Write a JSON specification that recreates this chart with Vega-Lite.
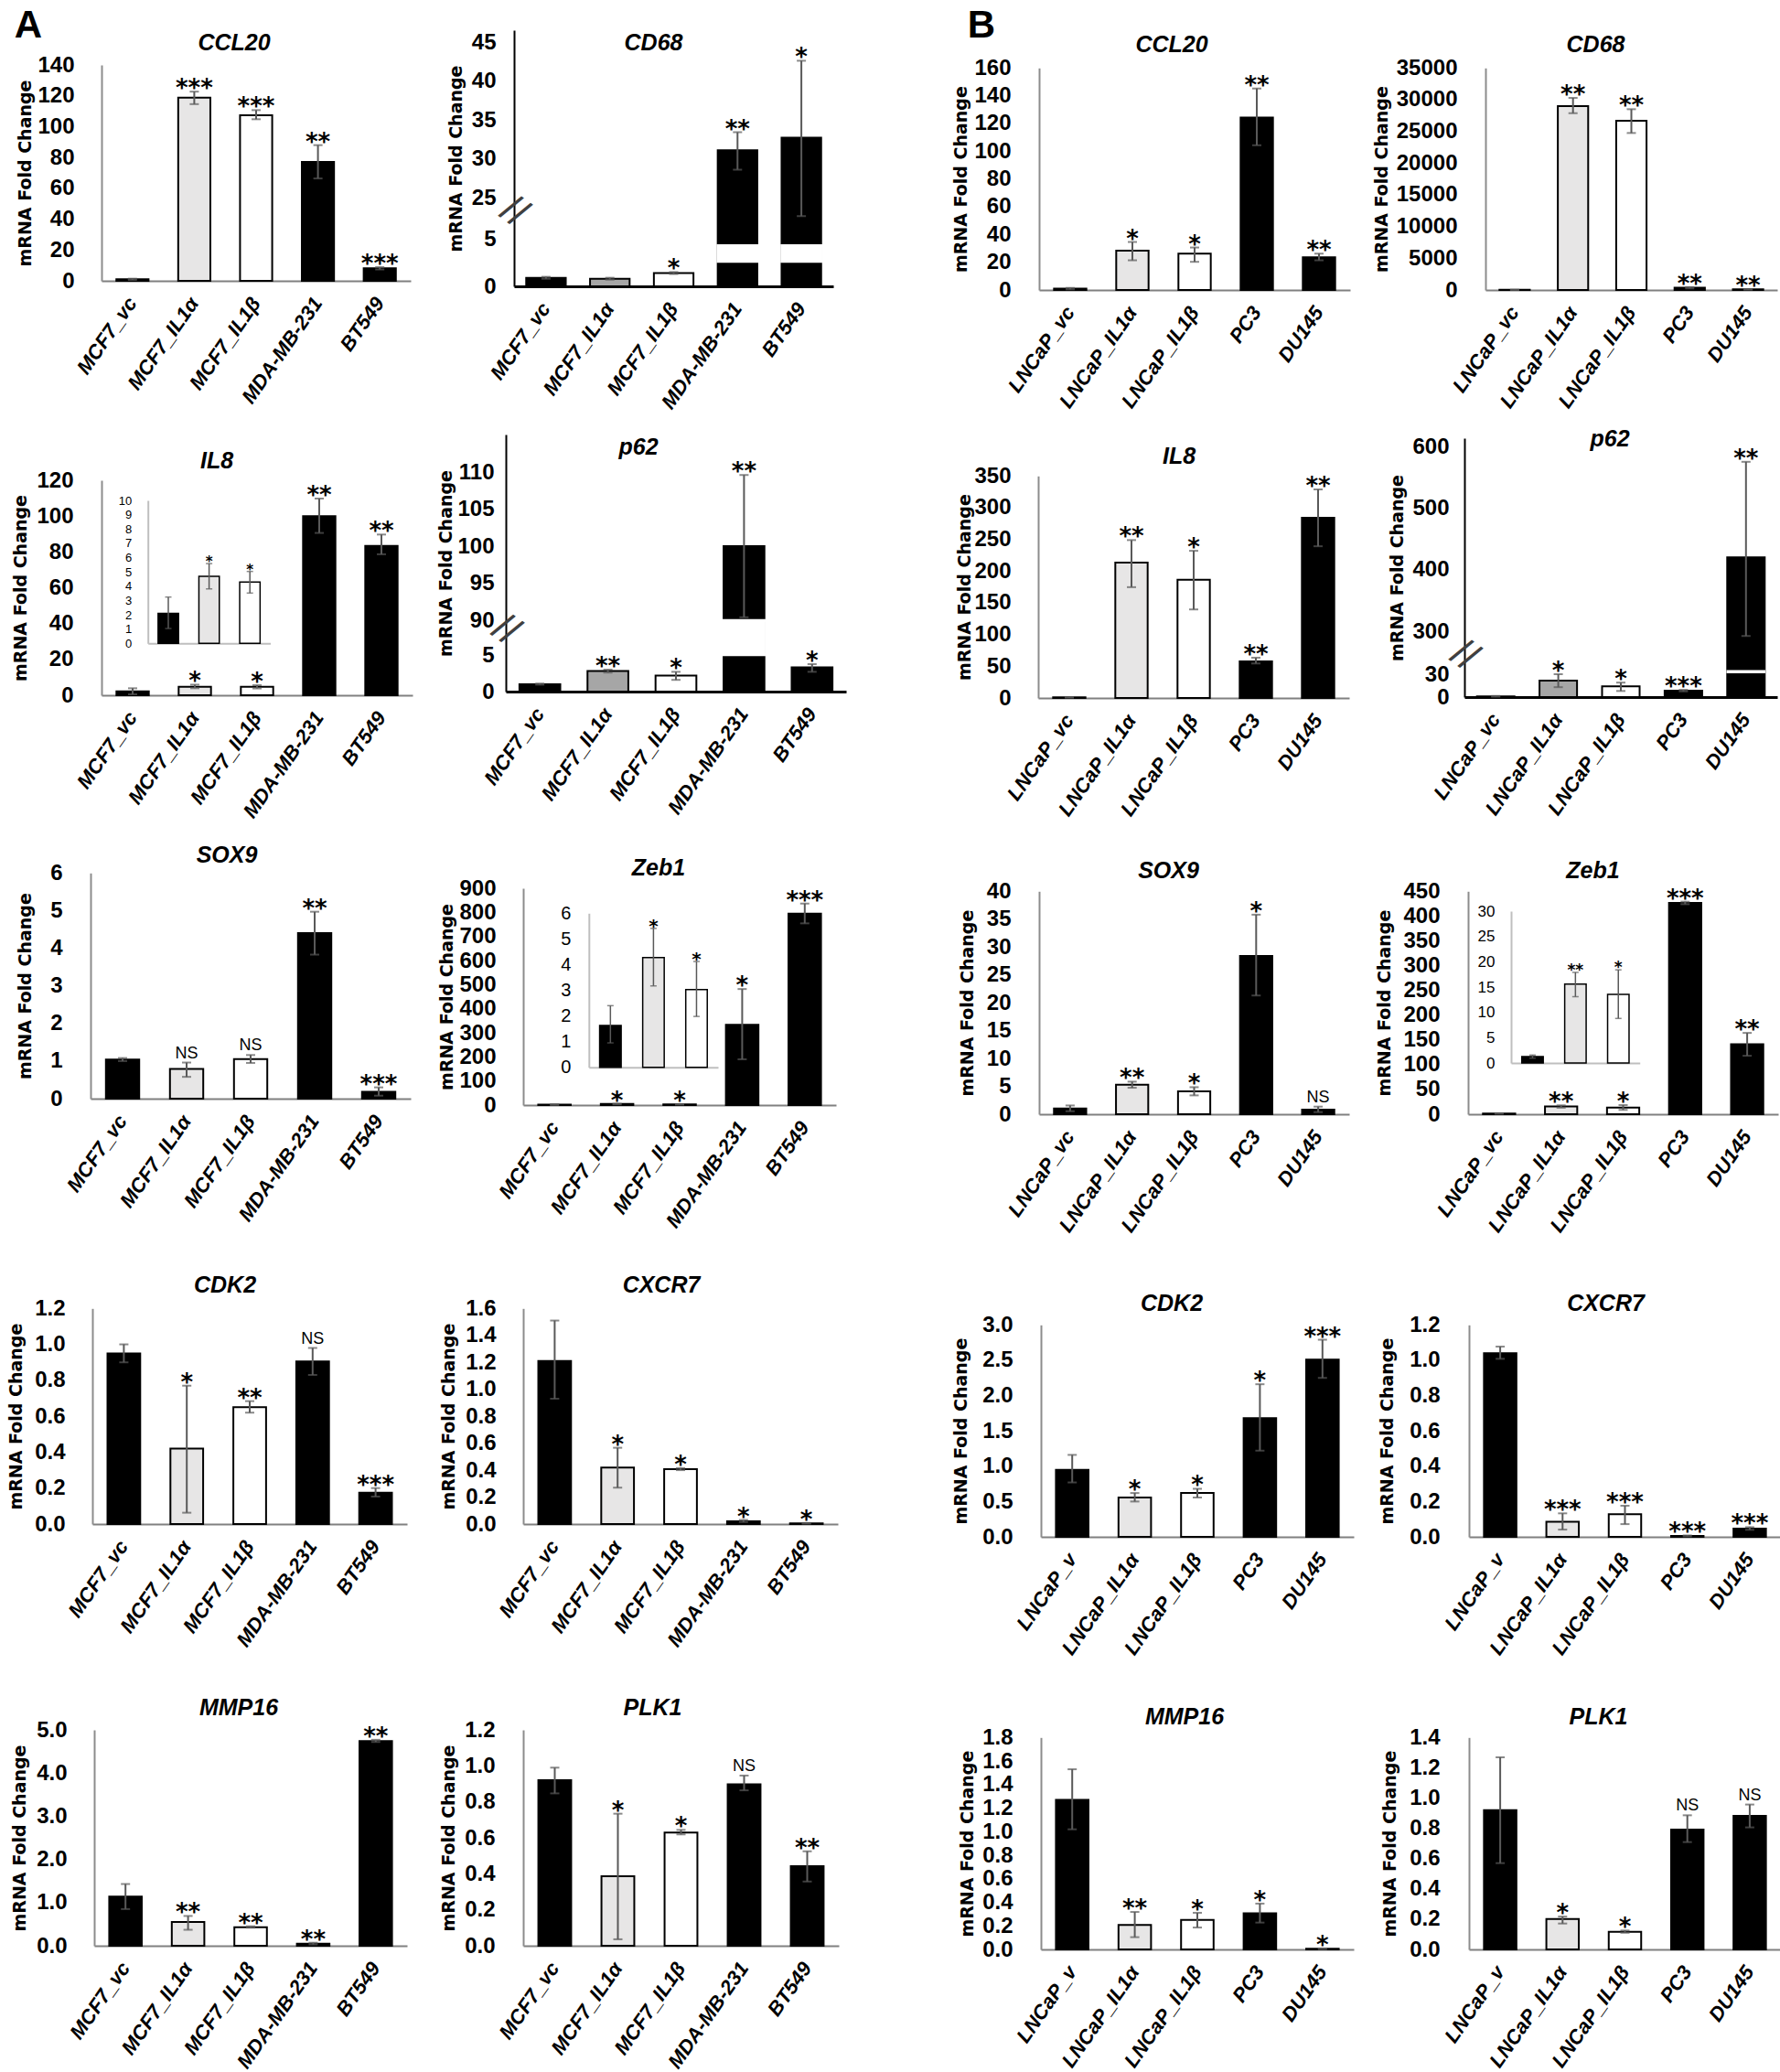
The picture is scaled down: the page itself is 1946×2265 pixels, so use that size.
{
"$schema":"https://vega.github.io/schema/vega-lite/v6.json",
"background":"white",
"padding":{"left":8,"top":6,"right":2,"bottom":0},
"datasets":{
"bars":[
{"panel":"A_CCL20","cell":"MCF7_vc","grp":"c","value":1.0,"lo":0.6,"hi":1.4,"sig":""},
{"panel":"A_CCL20","cell":"MCF7_IL1α","grp":"a","value":118.8,"lo":114.6,"hi":122.7,"sig":"***"},
{"panel":"A_CCL20","cell":"MCF7_IL1β","grp":"b","value":107.4,"lo":104.8,"hi":110.7,"sig":"***"},
{"panel":"A_CCL20","cell":"MDA-MB-231","grp":"c","value":77.1,"lo":66.4,"hi":88.0,"sig":"**"},
{"panel":"A_CCL20","cell":"BT549","grp":"c","value":8.1,"lo":7.4,"hi":8.9,"sig":"***"},
{"panel":"A_CD68","cell":"MCF7_vc","grp":"c","value":0.9,"lo":0.8,"hi":1.0,"sig":""},
{"panel":"A_CD68","cell":"MCF7_IL1α","grp":"g","value":0.8,"lo":0.7,"hi":0.9,"sig":""},
{"panel":"A_CD68","cell":"MCF7_IL1β","grp":"b","value":1.4,"lo":1.3,"hi":1.5,"sig":"*"},
{"panel":"A_CD68","cell":"MDA-MB-231","grp":"c","value":31.1,"lo":28.6,"hi":33.4,"sig":"**"},
{"panel":"A_CD68","cell":"BT549","grp":"c","value":32.7,"lo":16,"hi":42.6,"sig":"*"},
{"panel":"B_CCL20","cell":"LNCaP_vc","grp":"c","value":1.0,"lo":0.5,"hi":1.5,"sig":""},
{"panel":"B_CCL20","cell":"LNCaP_IL1α","grp":"a","value":28.4,"lo":21.4,"hi":34.6,"sig":"*"},
{"panel":"B_CCL20","cell":"LNCaP_IL1β","grp":"b","value":26.2,"lo":20.3,"hi":30.6,"sig":"*"},
{"panel":"B_CCL20","cell":"PC3","grp":"c","value":124.3,"lo":104.3,"hi":145.2,"sig":"**"},
{"panel":"B_CCL20","cell":"DU145","grp":"c","value":23.6,"lo":21.4,"hi":26.2,"sig":"**"},
{"panel":"B_CD68","cell":"LNCaP_vc","grp":"c","value":20,"lo":0,"hi":40,"sig":""},
{"panel":"B_CD68","cell":"LNCaP_IL1α","grp":"a","value":29000,"lo":27870,"hi":30280,"sig":"**"},
{"panel":"B_CD68","cell":"LNCaP_IL1β","grp":"b","value":26670,"lo":24750,"hi":28500,"sig":"**"},
{"panel":"B_CD68","cell":"PC3","grp":"c","value":350,"lo":250,"hi":450,"sig":"**"},
{"panel":"B_CD68","cell":"DU145","grp":"c","value":100,"lo":50,"hi":150,"sig":"**"},
{"panel":"A_IL8","cell":"MCF7_vc","grp":"c","value":2.2,"lo":0.5,"hi":3.9,"sig":""},
{"panel":"A_IL8","cell":"MCF7_IL1α","grp":"a","value":4.7,"lo":3.9,"hi":5.9,"sig":"*"},
{"panel":"A_IL8","cell":"MCF7_IL1β","grp":"b","value":4.7,"lo":3.8,"hi":5.6,"sig":"*"},
{"panel":"A_IL8","cell":"MDA-MB-231","grp":"c","value":100,"lo":90.6,"hi":109.8,"sig":"**"},
{"panel":"A_IL8","cell":"BT549","grp":"c","value":83.4,"lo":78.7,"hi":89.7,"sig":"**"},
{"panel":"A_IL8_in","cell":"MCF7_vc","grp":"c","value":2.1,"lo":1.04,"hi":3.24,"sig":""},
{"panel":"A_IL8_in","cell":"MCF7_IL1α","grp":"a","value":4.69,"lo":3.81,"hi":5.58,"sig":"*"},
{"panel":"A_IL8_in","cell":"MCF7_IL1β","grp":"b","value":4.29,"lo":3.52,"hi":5.03,"sig":"*"},
{"panel":"A_p62","cell":"MCF7_vc","grp":"c","value":1.0,"lo":0.95,"hi":1.1,"sig":""},
{"panel":"A_p62","cell":"MCF7_IL1α","grp":"g","value":2.8,"lo":2.6,"hi":3.0,"sig":"**"},
{"panel":"A_p62","cell":"MCF7_IL1β","grp":"b","value":2.2,"lo":1.6,"hi":2.7,"sig":"*"},
{"panel":"A_p62","cell":"MDA-MB-231","grp":"c","value":100,"lo":90.4,"hi":109.6,"sig":"**"},
{"panel":"A_p62","cell":"BT549","grp":"c","value":3.3,"lo":2.7,"hi":3.75,"sig":"*"},
{"panel":"B_IL8","cell":"LNCaP_vc","grp":"c","value":1.0,"lo":0.5,"hi":1.5,"sig":""},
{"panel":"B_IL8","cell":"LNCaP_IL1α","grp":"a","value":213.3,"lo":174.7,"hi":248.9,"sig":"**"},
{"panel":"B_IL8","cell":"LNCaP_IL1β","grp":"b","value":186.3,"lo":139.6,"hi":232.0,"sig":"*"},
{"panel":"B_IL8","cell":"PC3","grp":"c","value":57.8,"lo":54.4,"hi":63.5,"sig":"**"},
{"panel":"B_IL8","cell":"DU145","grp":"c","value":284,"lo":239.2,"hi":328.8,"sig":"**"},
{"panel":"B_p62","cell":"LNCaP_vc","grp":"c","value":1.0,"lo":0.5,"hi":1.5,"sig":""},
{"panel":"B_p62","cell":"LNCaP_IL1α","grp":"g","value":21.6,"lo":13,"hi":30,"sig":"*"},
{"panel":"B_p62","cell":"LNCaP_IL1β","grp":"b","value":14,"lo":8,"hi":19,"sig":"*"},
{"panel":"B_p62","cell":"PC3","grp":"c","value":8.4,"lo":7.5,"hi":9.5,"sig":"***"},
{"panel":"B_p62","cell":"DU145","grp":"c","value":420,"lo":270,"hi":575,"sig":"**"},
{"panel":"A_SOX9","cell":"MCF7_vc","grp":"c","value":1.04,"lo":1.0,"hi":1.08,"sig":""},
{"panel":"A_SOX9","cell":"MCF7_IL1α","grp":"a","value":0.79,"lo":0.58,"hi":0.96,"sig":"NS"},
{"panel":"A_SOX9","cell":"MCF7_IL1β","grp":"b","value":1.05,"lo":0.95,"hi":1.16,"sig":"NS"},
{"panel":"A_SOX9","cell":"MDA-MB-231","grp":"c","value":4.40,"lo":3.83,"hi":4.97,"sig":"**"},
{"panel":"A_SOX9","cell":"BT549","grp":"c","value":0.18,"lo":0.08,"hi":0.30,"sig":"***"},
{"panel":"A_Zeb1","cell":"MCF7_vc","grp":"c","value":1.6,"lo":0.9,"hi":2.4,"sig":""},
{"panel":"A_Zeb1","cell":"MCF7_IL1α","grp":"a","value":4.3,"lo":3.2,"hi":5.4,"sig":"*"},
{"panel":"A_Zeb1","cell":"MCF7_IL1β","grp":"b","value":3.0,"lo":2.0,"hi":4.1,"sig":"*"},
{"panel":"A_Zeb1","cell":"MDA-MB-231","grp":"c","value":333.5,"lo":190,"hi":481.7,"sig":"*"},
{"panel":"A_Zeb1","cell":"BT549","grp":"c","value":794.7,"lo":754.3,"hi":836.5,"sig":"***"},
{"panel":"A_Zeb1_in","cell":"MCF7_vc","grp":"c","value":1.63,"lo":0.95,"hi":2.4,"sig":""},
{"panel":"A_Zeb1_in","cell":"MCF7_IL1α","grp":"a","value":4.27,"lo":3.17,"hi":5.41,"sig":"*"},
{"panel":"A_Zeb1_in","cell":"MCF7_IL1β","grp":"b","value":3.03,"lo":1.98,"hi":4.12,"sig":"*"},
{"panel":"B_SOX9","cell":"LNCaP_vc","grp":"c","value":1.03,"lo":0.54,"hi":1.57,"sig":""},
{"panel":"B_SOX9","cell":"LNCaP_IL1α","grp":"a","value":5.3,"lo":4.75,"hi":5.84,"sig":"**"},
{"panel":"B_SOX9","cell":"LNCaP_IL1β","grp":"b","value":4.1,"lo":3.38,"hi":4.85,"sig":"*"},
{"panel":"B_SOX9","cell":"PC3","grp":"c","value":28.4,"lo":21.3,"hi":35.8,"sig":"*"},
{"panel":"B_SOX9","cell":"DU145","grp":"c","value":0.82,"lo":0.38,"hi":1.36,"sig":"NS"},
{"panel":"B_Zeb1","cell":"LNCaP_vc","grp":"c","value":1.3,"lo":1.0,"hi":1.6,"sig":""},
{"panel":"B_Zeb1","cell":"LNCaP_IL1α","grp":"a","value":15.6,"lo":13.1,"hi":17.9,"sig":"**"},
{"panel":"B_Zeb1","cell":"LNCaP_IL1β","grp":"b","value":13.5,"lo":8.8,"hi":18.4,"sig":"*"},
{"panel":"B_Zeb1","cell":"PC3","grp":"c","value":426.6,"lo":424,"hi":429,"sig":"***"},
{"panel":"B_Zeb1","cell":"DU145","grp":"c","value":141.3,"lo":118,"hi":164.1,"sig":"**"},
{"panel":"B_Zeb1_in","cell":"LNCaP_vc","grp":"c","value":1.27,"lo":0.96,"hi":1.57,"sig":""},
{"panel":"B_Zeb1_in","cell":"LNCaP_IL1α","grp":"a","value":15.6,"lo":13.1,"hi":17.9,"sig":"**"},
{"panel":"B_Zeb1_in","cell":"LNCaP_IL1β","grp":"b","value":13.55,"lo":8.8,"hi":18.4,"sig":"*"},
{"panel":"A_CDK2","cell":"MCF7_vc","grp":"c","value":0.95,"lo":0.90,"hi":1.0,"sig":""},
{"panel":"A_CDK2","cell":"MCF7_IL1α","grp":"a","value":0.42,"lo":0.063,"hi":0.77,"sig":"*"},
{"panel":"A_CDK2","cell":"MCF7_IL1β","grp":"b","value":0.65,"lo":0.62,"hi":0.684,"sig":"**"},
{"panel":"A_CDK2","cell":"MDA-MB-231","grp":"c","value":0.905,"lo":0.83,"hi":0.98,"sig":"NS"},
{"panel":"A_CDK2","cell":"BT549","grp":"c","value":0.175,"lo":0.153,"hi":0.2,"sig":"***"},
{"panel":"A_CXCR7","cell":"MCF7_vc","grp":"c","value":1.21,"lo":0.93,"hi":1.51,"sig":""},
{"panel":"A_CXCR7","cell":"MCF7_IL1α","grp":"a","value":0.419,"lo":0.27,"hi":0.566,"sig":"*"},
{"panel":"A_CXCR7","cell":"MCF7_IL1β","grp":"b","value":0.407,"lo":0.40,"hi":0.415,"sig":"*"},
{"panel":"A_CXCR7","cell":"MDA-MB-231","grp":"c","value":0.02,"lo":0.015,"hi":0.03,"sig":"*"},
{"panel":"A_CXCR7","cell":"BT549","grp":"c","value":0.005,"lo":0.003,"hi":0.008,"sig":"*"},
{"panel":"B_CDK2","cell":"LNCaP_v","grp":"c","value":0.95,"lo":0.77,"hi":1.16,"sig":""},
{"panel":"B_CDK2","cell":"LNCaP_IL1α","grp":"a","value":0.557,"lo":0.50,"hi":0.62,"sig":"*"},
{"panel":"B_CDK2","cell":"LNCaP_IL1β","grp":"b","value":0.62,"lo":0.557,"hi":0.68,"sig":"*"},
{"panel":"B_CDK2","cell":"PC3","grp":"c","value":1.68,"lo":1.22,"hi":2.16,"sig":"*"},
{"panel":"B_CDK2","cell":"DU145","grp":"c","value":2.51,"lo":2.25,"hi":2.79,"sig":"***"},
{"panel":"B_CXCR7","cell":"LNCaP_v","grp":"c","value":1.04,"lo":1.008,"hi":1.077,"sig":""},
{"panel":"B_CXCR7","cell":"LNCaP_IL1α","grp":"a","value":0.086,"lo":0.041,"hi":0.133,"sig":"***"},
{"panel":"B_CXCR7","cell":"LNCaP_IL1β","grp":"b","value":0.128,"lo":0.072,"hi":0.176,"sig":"***"},
{"panel":"B_CXCR7","cell":"PC3","grp":"c","value":0.005,"lo":0.003,"hi":0.008,"sig":"***"},
{"panel":"B_CXCR7","cell":"DU145","grp":"c","value":0.047,"lo":0.04,"hi":0.055,"sig":"***"},
{"panel":"A_MMP16","cell":"MCF7_vc","grp":"c","value":1.14,"lo":0.85,"hi":1.43,"sig":""},
{"panel":"A_MMP16","cell":"MCF7_IL1α","grp":"a","value":0.55,"lo":0.37,"hi":0.69,"sig":"**"},
{"panel":"A_MMP16","cell":"MCF7_IL1β","grp":"b","value":0.43,"lo":0.42,"hi":0.45,"sig":"**"},
{"panel":"A_MMP16","cell":"MDA-MB-231","grp":"c","value":0.05,"lo":0.03,"hi":0.07,"sig":"**"},
{"panel":"A_MMP16","cell":"BT549","grp":"c","value":4.74,"lo":4.72,"hi":4.77,"sig":"**"},
{"panel":"A_PLK1","cell":"MCF7_vc","grp":"c","value":0.92,"lo":0.847,"hi":0.99,"sig":""},
{"panel":"A_PLK1","cell":"MCF7_IL1α","grp":"a","value":0.386,"lo":0.036,"hi":0.734,"sig":"*"},
{"panel":"A_PLK1","cell":"MCF7_IL1β","grp":"b","value":0.629,"lo":0.619,"hi":0.644,"sig":"*"},
{"panel":"A_PLK1","cell":"MDA-MB-231","grp":"c","value":0.898,"lo":0.864,"hi":0.946,"sig":"NS"},
{"panel":"A_PLK1","cell":"BT549","grp":"c","value":0.442,"lo":0.357,"hi":0.525,"sig":"**"},
{"panel":"B_MMP16","cell":"LNCaP_v","grp":"c","value":1.27,"lo":1.02,"hi":1.53,"sig":""},
{"panel":"B_MMP16","cell":"LNCaP_IL1α","grp":"a","value":0.207,"lo":0.104,"hi":0.318,"sig":"**"},
{"panel":"B_MMP16","cell":"LNCaP_IL1β","grp":"b","value":0.251,"lo":0.186,"hi":0.311,"sig":"*"},
{"panel":"B_MMP16","cell":"PC3","grp":"c","value":0.306,"lo":0.228,"hi":0.389,"sig":"*"},
{"panel":"B_MMP16","cell":"DU145","grp":"c","value":0.005,"lo":0.003,"hi":0.008,"sig":"*"},
{"panel":"B_PLK1","cell":"LNCaP_v","grp":"c","value":0.92,"lo":0.57,"hi":1.269,"sig":""},
{"panel":"B_PLK1","cell":"LNCaP_IL1α","grp":"a","value":0.201,"lo":0.171,"hi":0.217,"sig":"*"},
{"panel":"B_PLK1","cell":"LNCaP_IL1β","grp":"b","value":0.117,"lo":0.11,"hi":0.125,"sig":"*"},
{"panel":"B_PLK1","cell":"PC3","grp":"c","value":0.792,"lo":0.709,"hi":0.886,"sig":"NS"},
{"panel":"B_PLK1","cell":"DU145","grp":"c","value":0.882,"lo":0.806,"hi":0.957,"sig":"NS"}
],
"gaps":[
{"panel":"A_CD68","cell":"MDA-MB-231","g0":2.6,"g1":4.3},
{"panel":"A_CD68","cell":"BT549","g0":2.6,"g1":4.3},
{"panel":"A_p62","cell":"MDA-MB-231","g0":5,"g1":90},
{"panel":"B_p62","cell":"DU145","g0":40,"g1":52}
]
},
"config":{
"view":{"stroke":null},
"axis":{"labelOverlap":false,"grid":false,"ticks":false,"tickSize":0,"labelColor":"#000000","titleColor":"#000000"},
"axisX":{"domainColor":"#808080","domainWidth":2,"labelAngle":-55,"labelAlign":"right","labelBaseline":"middle","labelFont":"Liberation Sans","labelFontSize":22,"labelFontWeight":"bold","labelFontStyle":"italic","labelPadding":20},
"axisY":{"domainColor":"#8c8c8c","domainWidth":2,"labelFont":"Liberation Sans","labelFontSize":24,"labelFontWeight":"bold","labelPadding":30,"titleFont":"DejaVu Sans","titleFontSize":19,"titleFontWeight":"bold","titlePadding":4},
"title":{"frame":"group","anchor":"middle","baseline":"middle","offset":0,"font":"Liberation Sans","fontSize":25,"fontWeight":"bold","fontStyle":"italic","color":"#000000"}
},
"concat":[
{"width":454,"height":301,"title":{"text":"CCL20","dx":-70,"dy":58},"data":{"name":"bars"},"transform":[{"filter":"datum.panel=='A_CCL20'"}],
"encoding":{"x":{"field":"cell","type":"nominal","title":null,"scale":{"domain":["MCF7_vc","MCF7_IL1α","MCF7_IL1β","MDA-MB-231","BT549"],"range":[12,350],"paddingInner":0,"paddingOuter":0}},
"y":{"field":"value","type":"quantitative","title":"mRNA Fold Change","scale":{"domain":[0,140],"range":[301,65],"nice":false,"zero":false},"axis":{"values":[0,20,40,60,80,100,120,140],"format":"d","offset":-12,"minExtent":70,"maxExtent":70,"labelPadding":30}}},
"layer":[
{"mark":{"type":"bar","width":{"band":0.52},"stroke":"#000000","strokeWidth":2},"encoding":{"fill":{"field":"grp","type":"nominal","scale":{"domain":["c","a","b","g"],"range":["#000000","#e7e6e6","#ffffff","#a6a6a6"]},"legend":null}}},
{"mark":{"type":"errorbar","color":"#595959","thickness":2,"ticks":{"size":10}},"encoding":{"y":{"field":"lo","type":"quantitative","title":"mRNA Fold Change"},"y2":{"field":"hi"}}},
{"transform":[{"filter":"indexof(datum.sig,'*')>=0"}],"mark":{"type":"text","font":"DejaVu Sans","fontWeight":"bold","fontSize":26,"baseline":"alphabetic","dy":5},"encoding":{"y":{"field":"hi","type":"quantitative","title":"mRNA Fold Change"},"text":{"field":"sig"}}},
{"transform":[{"filter":"datum.cell=='MCF7_vc'"}],"mark":{"type":"text","font":"Liberation Sans","fontWeight":"bold","fontSize":42,"baseline":"middle","dx":-80},"encoding":{"x":{"field":"cell","type":"nominal","bandPosition":0,"title":null},"y":{"datum":165.5,"type":"quantitative"},"text":{"value":"A"}}}
]},
{"width":582,"height":307,"title":{"text":"CD68","dx":-129.5,"dy":58},"data":{"name":"bars"},"transform":[{"filter":"datum.panel=='A_CD68'"}],
"encoding":{"x":{"field":"cell","type":"nominal","title":null,"scale":{"domain":["MCF7_vc","MCF7_IL1α","MCF7_IL1β","MDA-MB-231","BT549"],"range":[9,358],"paddingInner":0,"paddingOuter":0},"axis":{"domainColor":"#000000","domainWidth":3}},
"y":{"field":"value","type":"quantitative","title":"mRNA Fold Change","scale":{"domain":[0,5,25,45,46.5],"range":[307,255,210,40,27],"nice":false,"zero":false},"axis":{"values":[0,5,25,30,35,40,45],"format":"d","offset":-9,"minExtent":50,"maxExtent":50,"labelPadding":20,"domainColor":"#000000"}}},
"layer":[
{"mark":{"type":"bar","width":{"band":0.62},"stroke":"#000000","strokeWidth":2},"encoding":{"fill":{"field":"grp","type":"nominal","scale":{"domain":["c","a","b","g"],"range":["#000000","#e7e6e6","#ffffff","#a6a6a6"]},"legend":null}}},
{"data":{"name":"gaps"},"transform":[{"filter":"datum.panel=='A_CD68'"}],"mark":{"type":"bar","width":{"band":0.62},"fill":"#ffffff","stroke":"#ffffff","strokeWidth":2.5},"encoding":{"y":{"field":"g0","type":"quantitative","title":"mRNA Fold Change"},"y2":{"field":"g1"}}},
{"mark":{"type":"errorbar","color":"#595959","thickness":2,"ticks":{"size":10}},"encoding":{"y":{"field":"lo","type":"quantitative","title":"mRNA Fold Change"},"y2":{"field":"hi"}}},
{"transform":[{"filter":"indexof(datum.sig,'*')>=0"}],"mark":{"type":"text","font":"DejaVu Sans","fontWeight":"bold","fontSize":26,"baseline":"alphabetic","dy":5},"encoding":{"y":{"field":"hi","type":"quantitative","title":"mRNA Fold Change"},"text":{"field":"sig"}}},
{"transform":[{"filter":"datum.cell=='MCF7_vc'"}],"mark":{"type":"text","font":"Liberation Sans","fontSize":44,"angle":35,"baseline":"middle","color":"#404040"},"encoding":{"x":{"field":"cell","type":"nominal","bandPosition":0,"title":null},"y":{"datum":17.9,"type":"quantitative"},"text":{"value":"//"}}}
]},
{"width":466,"height":311,"title":{"text":"CCL20","dx":-87,"dy":60},"data":{"name":"bars"},"transform":[{"filter":"datum.panel=='B_CCL20'"}],
"encoding":{"x":{"field":"cell","type":"nominal","title":null,"scale":{"domain":["LNCaP_vc","LNCaP_IL1α","LNCaP_IL1β","PC3","DU145"],"range":[1,341],"paddingInner":0,"paddingOuter":0}},
"y":{"field":"value","type":"quantitative","title":"mRNA Fold Change","scale":{"domain":[0,160],"range":[311,68.3],"nice":false,"zero":false},"axis":{"values":[0,20,40,60,80,100,120,140,160],"format":"d","offset":-1,"minExtent":72,"maxExtent":72,"labelPadding":31}}},
"layer":[
{"mark":{"type":"bar","width":{"band":0.52},"stroke":"#000000","strokeWidth":2},"encoding":{"fill":{"field":"grp","type":"nominal","scale":{"domain":["c","a","b","g"],"range":["#000000","#e7e6e6","#ffffff","#a6a6a6"]},"legend":null}}},
{"mark":{"type":"errorbar","color":"#595959","thickness":2,"ticks":{"size":10}},"encoding":{"y":{"field":"lo","type":"quantitative","title":"mRNA Fold Change"},"y2":{"field":"hi"}}},
{"transform":[{"filter":"indexof(datum.sig,'*')>=0"}],"mark":{"type":"text","font":"DejaVu Sans","fontWeight":"bold","fontSize":26,"baseline":"alphabetic","dy":5},"encoding":{"y":{"field":"hi","type":"quantitative","title":"mRNA Fold Change"},"text":{"field":"sig"}}},
{"transform":[{"filter":"datum.cell=='LNCaP_vc'"}],"mark":{"type":"text","font":"Liberation Sans","fontWeight":"bold","fontSize":42,"baseline":"middle","dx":-63},"encoding":{"x":{"field":"cell","type":"nominal","bandPosition":0,"title":null},"y":{"datum":190.6,"type":"quantitative"},"text":{"value":"B"}}}
]},
{"width":345,"height":311,"title":{"text":"CD68","dx":-29,"dy":60},"data":{"name":"bars"},"transform":[{"filter":"datum.panel=='B_CD68'"}],
"encoding":{"x":{"field":"cell","type":"nominal","title":null,"scale":{"domain":["LNCaP_vc","LNCaP_IL1α","LNCaP_IL1β","PC3","DU145"],"range":[23,342],"paddingInner":0,"paddingOuter":0}},
"y":{"field":"value","type":"quantitative","title":"mRNA Fold Change","scale":{"domain":[0,35000],"range":[311,68.3],"nice":false,"zero":false},"axis":{"values":[0,5000,10000,15000,20000,25000,30000,35000],"format":"d","offset":-23,"minExtent":100,"maxExtent":100,"labelPadding":31}}},
"layer":[
{"mark":{"type":"bar","width":{"band":0.52},"stroke":"#000000","strokeWidth":2},"encoding":{"fill":{"field":"grp","type":"nominal","scale":{"domain":["c","a","b","g"],"range":["#000000","#e7e6e6","#ffffff","#a6a6a6"]},"legend":null}}},
{"mark":{"type":"errorbar","color":"#595959","thickness":2,"ticks":{"size":10}},"encoding":{"y":{"field":"lo","type":"quantitative","title":"mRNA Fold Change"},"y2":{"field":"hi"}}},
{"transform":[{"filter":"indexof(datum.sig,'*')>=0"}],"mark":{"type":"text","font":"DejaVu Sans","fontWeight":"bold","fontSize":26,"baseline":"alphabetic","dy":5},"encoding":{"y":{"field":"hi","type":"quantitative","title":"mRNA Fold Change"},"text":{"field":"sig"}}}
]},
{"width":454,"height":293,"title":{"text":"IL8","dx":-89,"dy":54},
"layer":[
{"data":{"name":"bars"},"transform":[{"filter":"datum.panel=='A_IL8'"}],
"encoding":{"x":{"field":"cell","type":"nominal","title":null,"scale":{"domain":["MCF7_vc","MCF7_IL1α","MCF7_IL1β","MDA-MB-231","BT549"],"range":[12,352],"paddingInner":0,"paddingOuter":0}},
"y":{"field":"value","type":"quantitative","title":"mRNA Fold Change","scale":{"domain":[0,120],"range":[293,58],"nice":false,"zero":false},"axis":{"values":[0,20,40,60,80,100,120],"format":"d","offset":-12,"minExtent":75,"maxExtent":75,"labelPadding":31}}},
"layer":[
{"mark":{"type":"bar","width":{"band":0.52},"stroke":"#000000","strokeWidth":2},"encoding":{"fill":{"field":"grp","type":"nominal","scale":{"domain":["c","a","b","g"],"range":["#000000","#e7e6e6","#ffffff","#a6a6a6"]},"legend":null}}},
{"mark":{"type":"errorbar","color":"#595959","thickness":2,"ticks":{"size":10}},"encoding":{"y":{"field":"lo","type":"quantitative","title":"mRNA Fold Change"},"y2":{"field":"hi"}}},
{"transform":[{"filter":"indexof(datum.sig,'*')>=0"}],"mark":{"type":"text","font":"DejaVu Sans","fontWeight":"bold","fontSize":26,"baseline":"alphabetic","dy":5},"encoding":{"y":{"field":"hi","type":"quantitative","title":"mRNA Fold Change"},"text":{"field":"sig"}}}
]},
{"data":{"name":"bars"},"transform":[{"filter":"datum.panel=='A_IL8_in'"}],
"encoding":{"x":{"field":"cell","type":"nominal","title":null,"scale":{"domain":["MCF7_vc","MCF7_IL1α","MCF7_IL1β"],"range":[62.7,196.5],"paddingInner":0,"paddingOuter":0},"axis":{"orient":"bottom","offset":-56.7,"labels":false,"domainColor":"#bfbfbf"}},
"y":{"field":"value","type":"quantitative","title":null,"scale":{"domain":[0,10],"range":[236.3,80],"nice":false,"zero":false},"axis":{"orient":"left","offset":-62.7,"values":[0,1,2,3,4,5,6,7,8,9,10],"format":"d","labelFontSize":13,"labelFontWeight":"normal","labelPadding":18,"domainColor":"#bfbfbf","minExtent":0,"maxExtent":40}}},
"layer":[
{"mark":{"type":"bar","width":{"band":0.5},"stroke":"#000000","strokeWidth":1.5},"encoding":{"fill":{"field":"grp","type":"nominal","scale":{"domain":["c","a","b","g"],"range":["#000000","#e7e6e6","#ffffff","#a6a6a6"]},"legend":null}}},
{"mark":{"type":"errorbar","color":"#595959","thickness":1.5,"ticks":{"size":7}},"encoding":{"y":{"field":"lo","type":"quantitative","title":null},"y2":{"field":"hi"}}},
{"transform":[{"filter":"indexof(datum.sig,'*')>=0"}],"mark":{"type":"text","font":"DejaVu Sans","fontWeight":"bold","fontSize":15,"baseline":"alphabetic","dy":3},"encoding":{"y":{"field":"hi","type":"quantitative","title":null},"text":{"field":"sig"}}}
]}
],
"resolve":{"scale":{"x":"independent","y":"independent"}}},
{"width":582,"height":289,"title":{"text":"p62","dx":-146,"dy":39},"data":{"name":"bars"},"transform":[{"filter":"datum.panel=='A_p62'"}],
"encoding":{"x":{"field":"cell","type":"nominal","title":null,"scale":{"domain":["MCF7_vc","MCF7_IL1α","MCF7_IL1β","MDA-MB-231","BT549"],"range":[0,372],"paddingInner":0,"paddingOuter":0},"axis":{"domainColor":"#000000","domainWidth":3}},
"y":{"field":"value","type":"quantitative","title":"mRNA Fold Change","scale":{"domain":[0,5,90,110,115],"range":[289,249,211,49,8],"nice":false,"zero":false},"axis":{"values":[0,5,90,95,100,105,110],"format":"d","minExtent":52,"maxExtent":52,"labelPadding":13,"domainColor":"#000000"}}},
"layer":[
{"mark":{"type":"bar","width":{"band":0.6},"stroke":"#000000","strokeWidth":2},"encoding":{"fill":{"field":"grp","type":"nominal","scale":{"domain":["c","a","b","g"],"range":["#000000","#e7e6e6","#ffffff","#a6a6a6"]},"legend":null}}},
{"data":{"name":"gaps"},"transform":[{"filter":"datum.panel=='A_p62'"}],"mark":{"type":"bar","width":{"band":0.6},"fill":"#ffffff","stroke":"#ffffff","strokeWidth":2.5},"encoding":{"y":{"field":"g0","type":"quantitative","title":"mRNA Fold Change"},"y2":{"field":"g1"}}},
{"mark":{"type":"errorbar","color":"#595959","thickness":2,"ticks":{"size":10}},"encoding":{"y":{"field":"lo","type":"quantitative","title":"mRNA Fold Change"},"y2":{"field":"hi"}}},
{"transform":[{"filter":"indexof(datum.sig,'*')>=0"}],"mark":{"type":"text","font":"DejaVu Sans","fontWeight":"bold","fontSize":26,"baseline":"alphabetic","dy":5},"encoding":{"y":{"field":"hi","type":"quantitative","title":"mRNA Fold Change"},"text":{"field":"sig"}}},
{"transform":[{"filter":"datum.cell=='MCF7_vc'"}],"mark":{"type":"text","font":"Liberation Sans","fontSize":44,"angle":35,"baseline":"middle","color":"#404040"},"encoding":{"x":{"field":"cell","type":"nominal","bandPosition":0,"title":null},"y":{"datum":65.4,"type":"quantitative"},"text":{"value":"//"}}}
]},
{"width":466,"height":296,"title":{"text":"IL8","dx":-79,"dy":49},"data":{"name":"bars"},"transform":[{"filter":"datum.panel=='B_IL8'"}],
"encoding":{"x":{"field":"cell","type":"nominal","title":null,"scale":{"domain":["LNCaP_vc","LNCaP_IL1α","LNCaP_IL1β","PC3","DU145"],"range":[0,340],"paddingInner":0,"paddingOuter":0}},
"y":{"field":"value","type":"quantitative","title":"mRNA Fold Change","scale":{"domain":[0,350],"range":[296,53.3],"nice":false,"zero":false},"axis":{"values":[0,50,100,150,200,250,300,350],"format":"d","minExtent":67,"maxExtent":67,"labelPadding":30}}},
"layer":[
{"mark":{"type":"bar","width":{"band":0.52},"stroke":"#000000","strokeWidth":2},"encoding":{"fill":{"field":"grp","type":"nominal","scale":{"domain":["c","a","b","g"],"range":["#000000","#e7e6e6","#ffffff","#a6a6a6"]},"legend":null}}},
{"mark":{"type":"errorbar","color":"#595959","thickness":2,"ticks":{"size":10}},"encoding":{"y":{"field":"lo","type":"quantitative","title":"mRNA Fold Change"},"y2":{"field":"hi"}}},
{"transform":[{"filter":"indexof(datum.sig,'*')>=0"}],"mark":{"type":"text","font":"DejaVu Sans","fontWeight":"bold","fontSize":26,"baseline":"alphabetic","dy":5},"encoding":{"y":{"field":"hi","type":"quantitative","title":"mRNA Fold Change"},"text":{"field":"sig"}}}
]},
{"width":345,"height":295,"title":{"text":"p62","dx":-13.5,"dy":30},"data":{"name":"bars"},"transform":[{"filter":"datum.panel=='B_p62'"}],
"encoding":{"x":{"field":"cell","type":"nominal","title":null,"scale":{"domain":["LNCaP_vc","LNCaP_IL1α","LNCaP_IL1β","PC3","DU145"],"range":[0,342],"paddingInner":0,"paddingOuter":0},"axis":{"domainColor":"#000000","domainWidth":3}},
"y":{"field":"value","type":"quantitative","title":"mRNA Fold Change","scale":{"domain":[0,30,300,600,613],"range":[295,270,223,21,12],"nice":false,"zero":false},"axis":{"values":[0,30,300,400,500,600],"format":"d","minExtent":60,"maxExtent":60,"labelPadding":17,"domainColor":"#000000"}}},
"layer":[
{"mark":{"type":"bar","width":{"band":0.6},"stroke":"#000000","strokeWidth":2},"encoding":{"fill":{"field":"grp","type":"nominal","scale":{"domain":["c","a","b","g"],"range":["#000000","#e7e6e6","#ffffff","#a6a6a6"]},"legend":null}}},
{"data":{"name":"gaps"},"transform":[{"filter":"datum.panel=='B_p62'"}],"mark":{"type":"bar","width":{"band":0.6},"fill":"#ffffff","stroke":"#ffffff","strokeWidth":1.5},"encoding":{"y":{"field":"g0","type":"quantitative","title":"mRNA Fold Change"},"y2":{"field":"g1"}}},
{"mark":{"type":"errorbar","color":"#595959","thickness":2,"ticks":{"size":10}},"encoding":{"y":{"field":"lo","type":"quantitative","title":"mRNA Fold Change"},"y2":{"field":"hi"}}},
{"transform":[{"filter":"indexof(datum.sig,'*')>=0"}],"mark":{"type":"text","font":"DejaVu Sans","fontWeight":"bold","fontSize":26,"baseline":"alphabetic","dy":5},"encoding":{"y":{"field":"hi","type":"quantitative","title":"mRNA Fold Change"},"text":{"field":"sig"}}},
{"transform":[{"filter":"datum.cell=='LNCaP_vc'"}],"mark":{"type":"text","font":"Liberation Sans","fontSize":44,"angle":35,"baseline":"middle","color":"#404040"},"encoding":{"x":{"field":"cell","type":"nominal","bandPosition":0,"title":null},"y":{"datum":145,"type":"quantitative"},"text":{"value":"//"}}}
]},
{"width":454,"height":288,"title":{"text":"SOX9","dx":-78,"dy":39},"data":{"name":"bars"},"transform":[{"filter":"datum.panel=='A_SOX9'"}],
"encoding":{"x":{"field":"cell","type":"nominal","title":null,"scale":{"domain":["MCF7_vc","MCF7_IL1α","MCF7_IL1β","MDA-MB-231","BT549"],"range":[0,350],"paddingInner":0,"paddingOuter":0}},
"y":{"field":"value","type":"quantitative","title":"mRNA Fold Change","scale":{"domain":[0,6],"range":[288,41.3],"nice":false,"zero":false},"axis":{"values":[0,1,2,3,4,5,6],"format":"d","minExtent":58,"maxExtent":58,"labelPadding":31}}},
"layer":[
{"mark":{"type":"bar","width":{"band":0.52},"stroke":"#000000","strokeWidth":2},"encoding":{"fill":{"field":"grp","type":"nominal","scale":{"domain":["c","a","b","g"],"range":["#000000","#e7e6e6","#ffffff","#a6a6a6"]},"legend":null}}},
{"mark":{"type":"errorbar","color":"#595959","thickness":2,"ticks":{"size":10}},"encoding":{"y":{"field":"lo","type":"quantitative","title":"mRNA Fold Change"},"y2":{"field":"hi"}}},
{"transform":[{"filter":"indexof(datum.sig,'*')>=0"}],"mark":{"type":"text","font":"DejaVu Sans","fontWeight":"bold","fontSize":26,"baseline":"alphabetic","dy":5},"encoding":{"y":{"field":"hi","type":"quantitative","title":"mRNA Fold Change"},"text":{"field":"sig"}}},
{"transform":[{"filter":"datum.sig=='NS'"}],"mark":{"type":"text","font":"Liberation Sans","fontSize":18,"baseline":"alphabetic","dy":-5},"encoding":{"y":{"field":"hi","type":"quantitative","title":"mRNA Fold Change"},"text":{"field":"sig"}}}
]},
{"width":582,"height":295,"title":{"text":"Zeb1","dx":-124,"dy":53},
"layer":[
{"data":{"name":"bars"},"transform":[{"filter":"datum.panel=='A_Zeb1'"}],
"encoding":{"x":{"field":"cell","type":"nominal","title":null,"scale":{"domain":["MCF7_vc","MCF7_IL1α","MCF7_IL1β","MDA-MB-231","BT549"],"range":[19,361],"paddingInner":0,"paddingOuter":0}},
"y":{"field":"value","type":"quantitative","title":"mRNA Fold Change","scale":{"domain":[0,900],"range":[295,58],"nice":false,"zero":false},"axis":{"values":[0,100,200,300,400,500,600,700,800,900],"format":"d","offset":-19,"minExtent":70,"maxExtent":70,"labelPadding":30}}},
"layer":[
{"mark":{"type":"bar","width":{"band":0.52},"stroke":"#000000","strokeWidth":2},"encoding":{"fill":{"field":"grp","type":"nominal","scale":{"domain":["c","a","b","g"],"range":["#000000","#e7e6e6","#ffffff","#a6a6a6"]},"legend":null}}},
{"mark":{"type":"errorbar","color":"#595959","thickness":2,"ticks":{"size":10}},"encoding":{"y":{"field":"lo","type":"quantitative","title":"mRNA Fold Change"},"y2":{"field":"hi"}}},
{"transform":[{"filter":"indexof(datum.sig,'*')>=0"}],"mark":{"type":"text","font":"DejaVu Sans","fontWeight":"bold","fontSize":26,"baseline":"alphabetic","dy":5},"encoding":{"y":{"field":"hi","type":"quantitative","title":"mRNA Fold Change"},"text":{"field":"sig"}}}
]},
{"data":{"name":"bars"},"transform":[{"filter":"datum.panel=='A_Zeb1_in'"}],
"encoding":{"x":{"field":"cell","type":"nominal","title":null,"scale":{"domain":["MCF7_vc","MCF7_IL1α","MCF7_IL1β"],"range":[90.8,232],"paddingInner":0,"paddingOuter":0},"axis":{"orient":"bottom","offset":-41.3,"labels":false,"domainColor":"#bfbfbf"}},
"y":{"field":"value","type":"quantitative","title":null,"scale":{"domain":[0,6],"range":[253.7,85.3],"nice":false,"zero":false},"axis":{"orient":"left","offset":-90.8,"values":[0,1,2,3,4,5,6],"format":"d","labelFontSize":20,"labelFontWeight":"normal","labelPadding":20,"domainColor":"#bfbfbf","minExtent":0,"maxExtent":40}}},
"layer":[
{"mark":{"type":"bar","width":{"band":0.5},"stroke":"#000000","strokeWidth":1.5},"encoding":{"fill":{"field":"grp","type":"nominal","scale":{"domain":["c","a","b","g"],"range":["#000000","#e7e6e6","#ffffff","#a6a6a6"]},"legend":null}}},
{"mark":{"type":"errorbar","color":"#595959","thickness":1.5,"ticks":{"size":7}},"encoding":{"y":{"field":"lo","type":"quantitative","title":null},"y2":{"field":"hi"}}},
{"transform":[{"filter":"indexof(datum.sig,'*')>=0"}],"mark":{"type":"text","font":"DejaVu Sans","fontWeight":"bold","fontSize":20,"baseline":"alphabetic","dy":4},"encoding":{"y":{"field":"hi","type":"quantitative","title":null},"text":{"field":"sig"}}}
]}
],
"resolve":{"scale":{"x":"independent","y":"independent"}}},
{"width":466,"height":305,"title":{"text":"SOX9","dx":-90.5,"dy":56},"data":{"name":"bars"},"transform":[{"filter":"datum.panel=='B_SOX9'"}],
"encoding":{"x":{"field":"cell","type":"nominal","title":null,"scale":{"domain":["LNCaP_vc","LNCaP_IL1α","LNCaP_IL1β","PC3","DU145"],"range":[1,340],"paddingInner":0,"paddingOuter":0}},
"y":{"field":"value","type":"quantitative","title":"mRNA Fold Change","scale":{"domain":[0,40],"range":[305,61.3],"nice":false,"zero":false},"axis":{"values":[0,5,10,15,20,25,30,35,40],"format":"d","offset":-1,"minExtent":65,"maxExtent":65,"labelPadding":31}}},
"layer":[
{"mark":{"type":"bar","width":{"band":0.52},"stroke":"#000000","strokeWidth":2},"encoding":{"fill":{"field":"grp","type":"nominal","scale":{"domain":["c","a","b","g"],"range":["#000000","#e7e6e6","#ffffff","#a6a6a6"]},"legend":null}}},
{"mark":{"type":"errorbar","color":"#595959","thickness":2,"ticks":{"size":10}},"encoding":{"y":{"field":"lo","type":"quantitative","title":"mRNA Fold Change"},"y2":{"field":"hi"}}},
{"transform":[{"filter":"indexof(datum.sig,'*')>=0"}],"mark":{"type":"text","font":"DejaVu Sans","fontWeight":"bold","fontSize":26,"baseline":"alphabetic","dy":5},"encoding":{"y":{"field":"hi","type":"quantitative","title":"mRNA Fold Change"},"text":{"field":"sig"}}},
{"transform":[{"filter":"datum.sig=='NS'"}],"mark":{"type":"text","font":"Liberation Sans","fontSize":18,"baseline":"alphabetic","dy":-5},"encoding":{"y":{"field":"hi","type":"quantitative","title":"mRNA Fold Change"},"text":{"field":"sig"}}}
]},
{"width":345,"height":305,"title":{"text":"Zeb1","dx":-32,"dy":56},
"layer":[
{"data":{"name":"bars"},"transform":[{"filter":"datum.panel=='B_Zeb1'"}],
"encoding":{"x":{"field":"cell","type":"nominal","title":null,"scale":{"domain":["LNCaP_vc","LNCaP_IL1α","LNCaP_IL1β","PC3","DU145"],"range":[4,343],"paddingInner":0,"paddingOuter":0}},
"y":{"field":"value","type":"quantitative","title":"mRNA Fold Change","scale":{"domain":[0,450],"range":[305,61.3],"nice":false,"zero":false},"axis":{"values":[0,50,100,150,200,250,300,350,400,450],"format":"d","offset":-4,"minExtent":78,"maxExtent":78,"labelPadding":31}}},
"layer":[
{"mark":{"type":"bar","width":{"band":0.52},"stroke":"#000000","strokeWidth":2},"encoding":{"fill":{"field":"grp","type":"nominal","scale":{"domain":["c","a","b","g"],"range":["#000000","#e7e6e6","#ffffff","#a6a6a6"]},"legend":null}}},
{"mark":{"type":"errorbar","color":"#595959","thickness":2,"ticks":{"size":10}},"encoding":{"y":{"field":"lo","type":"quantitative","title":"mRNA Fold Change"},"y2":{"field":"hi"}}},
{"transform":[{"filter":"indexof(datum.sig,'*')>=0"}],"mark":{"type":"text","font":"DejaVu Sans","fontWeight":"bold","fontSize":26,"baseline":"alphabetic","dy":5},"encoding":{"y":{"field":"hi","type":"quantitative","title":"mRNA Fold Change"},"text":{"field":"sig"}}}
]},
{"data":{"name":"bars"},"transform":[{"filter":"datum.panel=='B_Zeb1_in'"}],
"encoding":{"x":{"field":"cell","type":"nominal","title":null,"scale":{"domain":["LNCaP_vc","LNCaP_IL1α","LNCaP_IL1β"],"range":[51,191.7],"paddingInner":0,"paddingOuter":0},"axis":{"orient":"bottom","offset":-56,"labels":false,"domainColor":"#bfbfbf"}},
"y":{"field":"value","type":"quantitative","title":null,"scale":{"domain":[0,30],"range":[249,83],"nice":false,"zero":false},"axis":{"orient":"left","offset":-51,"values":[0,5,10,15,20,25,30],"format":"d","labelFontSize":17,"labelFontWeight":"normal","labelPadding":18,"domainColor":"#bfbfbf","minExtent":0,"maxExtent":40}}},
"layer":[
{"mark":{"type":"bar","width":{"band":0.5},"stroke":"#000000","strokeWidth":1.5},"encoding":{"fill":{"field":"grp","type":"nominal","scale":{"domain":["c","a","b","g"],"range":["#000000","#e7e6e6","#ffffff","#a6a6a6"]},"legend":null}}},
{"mark":{"type":"errorbar","color":"#595959","thickness":1.5,"ticks":{"size":7}},"encoding":{"y":{"field":"lo","type":"quantitative","title":null},"y2":{"field":"hi"}}},
{"transform":[{"filter":"indexof(datum.sig,'*')>=0"}],"mark":{"type":"text","font":"DejaVu Sans","fontWeight":"bold","fontSize":17,"baseline":"alphabetic","dy":3},"encoding":{"y":{"field":"hi","type":"quantitative","title":null},"text":{"field":"sig"}}}
]}
],
"resolve":{"scale":{"x":"independent","y":"independent"}}},
{"width":454,"height":298,"title":{"text":"CDK2","dx":-80,"dy":54},"data":{"name":"bars"},"transform":[{"filter":"datum.panel=='A_CDK2'"}],
"encoding":{"x":{"field":"cell","type":"nominal","title":null,"scale":{"domain":["MCF7_vc","MCF7_IL1α","MCF7_IL1β","MDA-MB-231","BT549"],"range":[2,346],"paddingInner":0,"paddingOuter":0}},
"y":{"field":"value","type":"quantitative","title":"mRNA Fold Change","scale":{"domain":[0,1.2],"range":[298,62.3],"nice":false,"zero":false},"axis":{"values":[0,0.2,0.4,0.6,0.8,1,1.2],"format":".1f","offset":-2,"minExtent":70,"maxExtent":70,"labelPadding":30}}},
"layer":[
{"mark":{"type":"bar","width":{"band":0.52},"stroke":"#000000","strokeWidth":2},"encoding":{"fill":{"field":"grp","type":"nominal","scale":{"domain":["c","a","b","g"],"range":["#000000","#e7e6e6","#ffffff","#a6a6a6"]},"legend":null}}},
{"mark":{"type":"errorbar","color":"#595959","thickness":2,"ticks":{"size":10}},"encoding":{"y":{"field":"lo","type":"quantitative","title":"mRNA Fold Change"},"y2":{"field":"hi"}}},
{"transform":[{"filter":"indexof(datum.sig,'*')>=0"}],"mark":{"type":"text","font":"DejaVu Sans","fontWeight":"bold","fontSize":26,"baseline":"alphabetic","dy":5},"encoding":{"y":{"field":"hi","type":"quantitative","title":"mRNA Fold Change"},"text":{"field":"sig"}}},
{"transform":[{"filter":"datum.sig=='NS'"}],"mark":{"type":"text","font":"Liberation Sans","fontSize":18,"baseline":"alphabetic","dy":-5},"encoding":{"y":{"field":"hi","type":"quantitative","title":"mRNA Fold Change"},"text":{"field":"sig"}}}
]},
{"width":582,"height":298,"title":{"text":"CXCR7","dx":-121,"dy":54},"data":{"name":"bars"},"transform":[{"filter":"datum.panel=='A_CXCR7'"}],
"encoding":{"x":{"field":"cell","type":"nominal","title":null,"scale":{"domain":["MCF7_vc","MCF7_IL1α","MCF7_IL1β","MDA-MB-231","BT549"],"range":[19,363],"paddingInner":0,"paddingOuter":0}},
"y":{"field":"value","type":"quantitative","title":"mRNA Fold Change","scale":{"domain":[0,1.6],"range":[298,62.3],"nice":false,"zero":false},"axis":{"values":[0,0.2,0.4,0.6,0.8,1,1.2,1.4,1.6],"format":".1f","offset":-19,"minExtent":68,"maxExtent":68,"labelPadding":30}}},
"layer":[
{"mark":{"type":"bar","width":{"band":0.52},"stroke":"#000000","strokeWidth":2},"encoding":{"fill":{"field":"grp","type":"nominal","scale":{"domain":["c","a","b","g"],"range":["#000000","#e7e6e6","#ffffff","#a6a6a6"]},"legend":null}}},
{"mark":{"type":"errorbar","color":"#595959","thickness":2,"ticks":{"size":10}},"encoding":{"y":{"field":"lo","type":"quantitative","title":"mRNA Fold Change"},"y2":{"field":"hi"}}},
{"transform":[{"filter":"indexof(datum.sig,'*')>=0"}],"mark":{"type":"text","font":"DejaVu Sans","fontWeight":"bold","fontSize":26,"baseline":"alphabetic","dy":5},"encoding":{"y":{"field":"hi","type":"quantitative","title":"mRNA Fold Change"},"text":{"field":"sig"}}}
]},
{"width":466,"height":312,"title":{"text":"CDK2","dx":-87,"dy":74},"data":{"name":"bars"},"transform":[{"filter":"datum.panel=='B_CDK2'"}],
"encoding":{"x":{"field":"cell","type":"nominal","title":null,"scale":{"domain":["LNCaP_v","LNCaP_IL1α","LNCaP_IL1β","PC3","DU145"],"range":[3,345],"paddingInner":0,"paddingOuter":0}},
"y":{"field":"value","type":"quantitative","title":"mRNA Fold Change","scale":{"domain":[0,3],"range":[312,80.3],"nice":false,"zero":false},"axis":{"values":[0,0.5,1,1.5,2,2.5,3],"format":".1f","offset":-3,"minExtent":74,"maxExtent":74,"labelPadding":31}}},
"layer":[
{"mark":{"type":"bar","width":{"band":0.52},"stroke":"#000000","strokeWidth":2},"encoding":{"fill":{"field":"grp","type":"nominal","scale":{"domain":["c","a","b","g"],"range":["#000000","#e7e6e6","#ffffff","#a6a6a6"]},"legend":null}}},
{"mark":{"type":"errorbar","color":"#595959","thickness":2,"ticks":{"size":10}},"encoding":{"y":{"field":"lo","type":"quantitative","title":"mRNA Fold Change"},"y2":{"field":"hi"}}},
{"transform":[{"filter":"indexof(datum.sig,'*')>=0"}],"mark":{"type":"text","font":"DejaVu Sans","fontWeight":"bold","fontSize":26,"baseline":"alphabetic","dy":5},"encoding":{"y":{"field":"hi","type":"quantitative","title":"mRNA Fold Change"},"text":{"field":"sig"}}}
]},
{"width":345,"height":312,"title":{"text":"CXCR7","dx":-18,"dy":74},"data":{"name":"bars"},"transform":[{"filter":"datum.panel=='B_CXCR7'"}],
"encoding":{"x":{"field":"cell","type":"nominal","title":null,"scale":{"domain":["LNCaP_v","LNCaP_IL1α","LNCaP_IL1β","PC3","DU145"],"range":[5,346],"paddingInner":0,"paddingOuter":0}},
"y":{"field":"value","type":"quantitative","title":"mRNA Fold Change","scale":{"domain":[0,1.2],"range":[312,80.3],"nice":false,"zero":false},"axis":{"values":[0,0.2,0.4,0.6,0.8,1,1.2],"format":".1f","offset":-5,"minExtent":76,"maxExtent":76,"labelPadding":32}}},
"layer":[
{"mark":{"type":"bar","width":{"band":0.52},"stroke":"#000000","strokeWidth":2},"encoding":{"fill":{"field":"grp","type":"nominal","scale":{"domain":["c","a","b","g"],"range":["#000000","#e7e6e6","#ffffff","#a6a6a6"]},"legend":null}}},
{"mark":{"type":"errorbar","color":"#595959","thickness":2,"ticks":{"size":10}},"encoding":{"y":{"field":"lo","type":"quantitative","title":"mRNA Fold Change"},"y2":{"field":"hi"}}},
{"transform":[{"filter":"indexof(datum.sig,'*')>=0"}],"mark":{"type":"text","font":"DejaVu Sans","fontWeight":"bold","fontSize":26,"baseline":"alphabetic","dy":5},"encoding":{"y":{"field":"hi","type":"quantitative","title":"mRNA Fold Change"},"text":{"field":"sig"}}}
]},
{"width":454,"height":297,"title":{"text":"MMP16","dx":-65,"dy":54},"data":{"name":"bars"},"transform":[{"filter":"datum.panel=='A_MMP16'"}],
"encoding":{"x":{"field":"cell","type":"nominal","title":null,"scale":{"domain":["MCF7_vc","MCF7_IL1α","MCF7_IL1β","MDA-MB-231","BT549"],"range":[4,346],"paddingInner":0,"paddingOuter":0}},
"y":{"field":"value","type":"quantitative","title":"mRNA Fold Change","scale":{"domain":[0,5],"range":[297,61],"nice":false,"zero":false},"axis":{"values":[0,1,2,3,4,5],"format":".1f","offset":-4,"minExtent":68,"maxExtent":68,"labelPadding":30}}},
"layer":[
{"mark":{"type":"bar","width":{"band":0.52},"stroke":"#000000","strokeWidth":2},"encoding":{"fill":{"field":"grp","type":"nominal","scale":{"domain":["c","a","b","g"],"range":["#000000","#e7e6e6","#ffffff","#a6a6a6"]},"legend":null}}},
{"mark":{"type":"errorbar","color":"#595959","thickness":2,"ticks":{"size":10}},"encoding":{"y":{"field":"lo","type":"quantitative","title":"mRNA Fold Change"},"y2":{"field":"hi"}}},
{"transform":[{"filter":"indexof(datum.sig,'*')>=0"}],"mark":{"type":"text","font":"DejaVu Sans","fontWeight":"bold","fontSize":26,"baseline":"alphabetic","dy":5},"encoding":{"y":{"field":"hi","type":"quantitative","title":"mRNA Fold Change"},"text":{"field":"sig"}}}
]},
{"width":582,"height":297,"title":{"text":"PLK1","dx":-130.5,"dy":54},"data":{"name":"bars"},"transform":[{"filter":"datum.panel=='A_PLK1'"}],
"encoding":{"x":{"field":"cell","type":"nominal","title":null,"scale":{"domain":["MCF7_vc","MCF7_IL1α","MCF7_IL1β","MDA-MB-231","BT549"],"range":[19,364],"paddingInner":0,"paddingOuter":0}},
"y":{"field":"value","type":"quantitative","title":"mRNA Fold Change","scale":{"domain":[0,1.2],"range":[297,61],"nice":false,"zero":false},"axis":{"values":[0,0.2,0.4,0.6,0.8,1,1.2],"format":".1f","offset":-19,"minExtent":68,"maxExtent":68,"labelPadding":31}}},
"layer":[
{"mark":{"type":"bar","width":{"band":0.52},"stroke":"#000000","strokeWidth":2},"encoding":{"fill":{"field":"grp","type":"nominal","scale":{"domain":["c","a","b","g"],"range":["#000000","#e7e6e6","#ffffff","#a6a6a6"]},"legend":null}}},
{"mark":{"type":"errorbar","color":"#595959","thickness":2,"ticks":{"size":10}},"encoding":{"y":{"field":"lo","type":"quantitative","title":"mRNA Fold Change"},"y2":{"field":"hi"}}},
{"transform":[{"filter":"indexof(datum.sig,'*')>=0"}],"mark":{"type":"text","font":"DejaVu Sans","fontWeight":"bold","fontSize":26,"baseline":"alphabetic","dy":5},"encoding":{"y":{"field":"hi","type":"quantitative","title":"mRNA Fold Change"},"text":{"field":"sig"}}},
{"transform":[{"filter":"datum.sig=='NS'"}],"mark":{"type":"text","font":"Liberation Sans","fontSize":18,"baseline":"alphabetic","dy":-5},"encoding":{"y":{"field":"hi","type":"quantitative","title":"mRNA Fold Change"},"text":{"field":"sig"}}}
]},
{"width":466,"height":301,"title":{"text":"MMP16","dx":-73,"dy":64},"data":{"name":"bars"},"transform":[{"filter":"datum.panel=='B_MMP16'"}],
"encoding":{"x":{"field":"cell","type":"nominal","title":null,"scale":{"domain":["LNCaP_v","LNCaP_IL1α","LNCaP_IL1β","PC3","DU145"],"range":[3,345],"paddingInner":0,"paddingOuter":0}},
"y":{"field":"value","type":"quantitative","title":"mRNA Fold Change","scale":{"domain":[0,1.8],"range":[301,69.3],"nice":false,"zero":false},"axis":{"values":[0,0.2,0.4,0.6,0.8,1,1.2,1.4,1.6,1.8],"format":".1f","offset":-3,"minExtent":67,"maxExtent":67,"labelPadding":31}}},
"layer":[
{"mark":{"type":"bar","width":{"band":0.52},"stroke":"#000000","strokeWidth":2},"encoding":{"fill":{"field":"grp","type":"nominal","scale":{"domain":["c","a","b","g"],"range":["#000000","#e7e6e6","#ffffff","#a6a6a6"]},"legend":null}}},
{"mark":{"type":"errorbar","color":"#595959","thickness":2,"ticks":{"size":10}},"encoding":{"y":{"field":"lo","type":"quantitative","title":"mRNA Fold Change"},"y2":{"field":"hi"}}},
{"transform":[{"filter":"indexof(datum.sig,'*')>=0"}],"mark":{"type":"text","font":"DejaVu Sans","fontWeight":"bold","fontSize":26,"baseline":"alphabetic","dy":5},"encoding":{"y":{"field":"hi","type":"quantitative","title":"mRNA Fold Change"},"text":{"field":"sig"}}}
]},
{"width":345,"height":301,"title":{"text":"PLK1","dx":-26,"dy":64},"data":{"name":"bars"},"transform":[{"filter":"datum.panel=='B_PLK1'"}],
"encoding":{"x":{"field":"cell","type":"nominal","title":null,"scale":{"domain":["LNCaP_v","LNCaP_IL1α","LNCaP_IL1β","PC3","DU145"],"range":[5,346],"paddingInner":0,"paddingOuter":0}},
"y":{"field":"value","type":"quantitative","title":"mRNA Fold Change","scale":{"domain":[0,1.4],"range":[301,69.3],"nice":false,"zero":false},"axis":{"values":[0,0.2,0.4,0.6,0.8,1,1.2,1.4],"format":".1f","offset":-5,"minExtent":73,"maxExtent":73,"labelPadding":32}}},
"layer":[
{"mark":{"type":"bar","width":{"band":0.52},"stroke":"#000000","strokeWidth":2},"encoding":{"fill":{"field":"grp","type":"nominal","scale":{"domain":["c","a","b","g"],"range":["#000000","#e7e6e6","#ffffff","#a6a6a6"]},"legend":null}}},
{"mark":{"type":"errorbar","color":"#595959","thickness":2,"ticks":{"size":10}},"encoding":{"y":{"field":"lo","type":"quantitative","title":"mRNA Fold Change"},"y2":{"field":"hi"}}},
{"transform":[{"filter":"indexof(datum.sig,'*')>=0"}],"mark":{"type":"text","font":"DejaVu Sans","fontWeight":"bold","fontSize":26,"baseline":"alphabetic","dy":5},"encoding":{"y":{"field":"hi","type":"quantitative","title":"mRNA Fold Change"},"text":{"field":"sig"}}},
{"transform":[{"filter":"datum.sig=='NS'"}],"mark":{"type":"text","font":"Liberation Sans","fontSize":18,"baseline":"alphabetic","dy":-5},"encoding":{"y":{"field":"hi","type":"quantitative","title":"mRNA Fold Change"},"text":{"field":"sig"}}}
]}
],
"columns":4,
"spacing":{"row":150,"column":0},
"bounds":"flush",
"align":"each"
}
